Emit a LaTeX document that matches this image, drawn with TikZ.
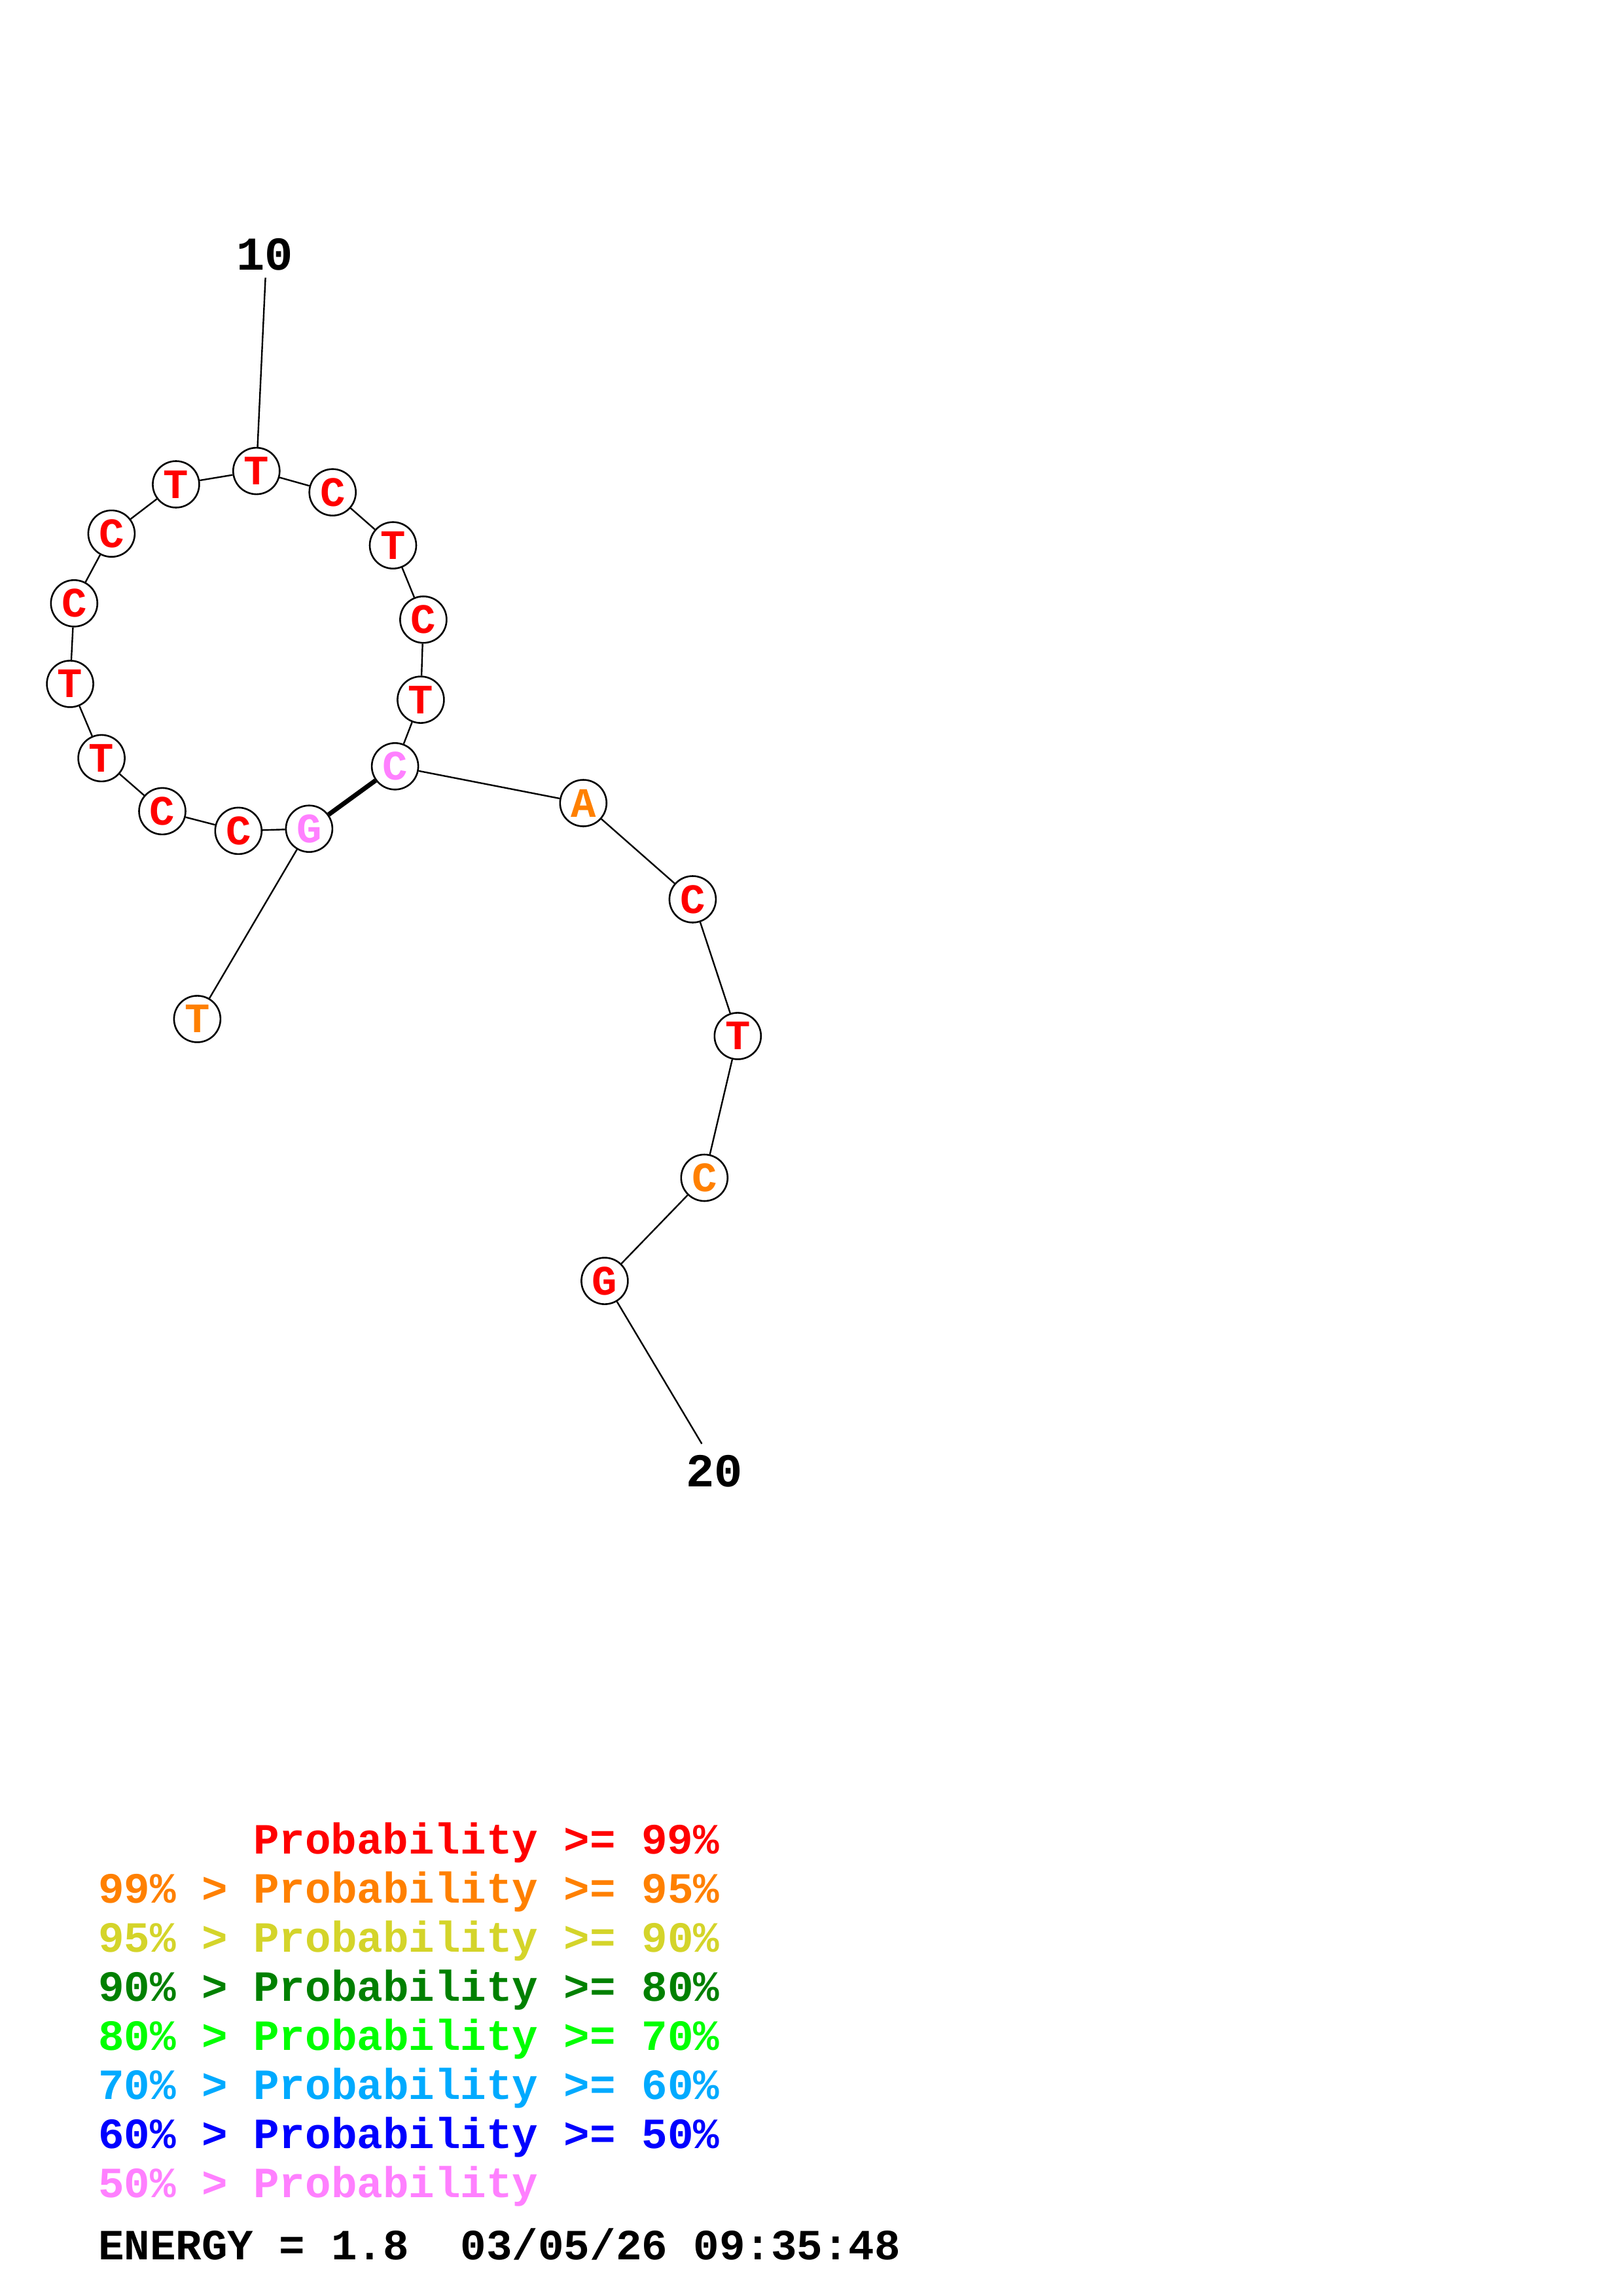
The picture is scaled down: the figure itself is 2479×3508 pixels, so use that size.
\documentclass[tikz,border=0pt]{standalone}
\usepackage{fontspec}
\setmonofont{Liberation Mono}
\definecolor{pr}{RGB}{255,0,0}
\definecolor{po}{RGB}{255,128,0}
\definecolor{py}{RGB}{212,212,42}
\definecolor{pdg}{RGB}{0,128,0}
\definecolor{pg}{RGB}{0,255,0}
\definecolor{plb}{RGB}{0,170,255}
\definecolor{pb}{RGB}{0,0,255}
\definecolor{pp}{RGB}{255,128,255}
\tikzset{
  nt/.style={circle,draw=black,line width=2.6pt,fill=white,minimum size=71pt,inner sep=0pt,
    font=\ttfamily\bfseries\fontsize{64}{64}\selectfont},
  bb/.style={line width=2.4pt},
  bond/.style={line width=7pt},
  numlbl/.style={font=\ttfamily\bfseries\fontsize{72}{72}\selectfont},
  leg/.style={anchor=base west,inner sep=0pt,font=\ttfamily\bfseries\fontsize{65.9}{66}\selectfont}
}
\begin{document}
\begin{tikzpicture}[x=1pt,y=-1pt]
\useasboundingbox (0,0) rectangle (2479,3508);
% nucleotides
\node[nt,text=po] (n1) at (301.4,1556.9) {T};
\node[nt,text=pp] (n2) at (472.4,1266.2) {G};
\node[nt,text=pr] (n3) at (364.3,1269.4) {C};
\node[nt,text=pr] (n4) at (248.0,1239.4) {C};
\node[nt,text=pr] (n5) at (155.1,1158.4) {T};
\node[nt,text=pr] (n6) at (107.1,1044.9) {T};
\node[nt,text=pr] (n7) at (113.3,921.8) {C};
\node[nt,text=pr] (n8) at (170.4,815.3) {C};
\node[nt,text=pr] (n9) at (268.9,740.0) {T};
\node[nt,text=pr] (n10) at (391.8,719.6) {T};
\node[nt,text=pr] (n11) at (508.2,752.2) {C};
\node[nt,text=pr] (n12) at (600.5,833.2) {T};
\node[nt,text=pr] (n13) at (646.9,946.7) {C};
\node[nt,text=pr] (n14) at (642.9,1069.1) {T};
\node[nt,text=pp] (n15) at (603.6,1170.8) {C};
\node[nt,text=po] (n16) at (891.3,1227.0) {A};
\node[nt,text=pr] (n17) at (1058.4,1374.0) {C};
\node[nt,text=pr] (n18) at (1127.3,1582.9) {T};
\node[nt,text=po] (n19) at (1076.3,1799.5) {C};
\node[nt,text=pr] (n20) at (923.9,1957.1) {G};
% backbone
\foreach \a/\b in {1/2,2/3,3/4,4/5,5/6,6/7,7/8,8/9,9/10,10/11,11/12,12/13,13/14,14/15,15/16,16/17,17/18,18/19,19/20}
  \draw[bb] (n\a) -- (n\b);
% pair
\draw[bond] (n2) -- (n15);
% number labels
\node[numlbl] (l10) at (405,389) {10};
\coordinate (c10) at (405.6,424.4);
\draw[bb] (c10) -- (n10);
\node[numlbl] (l20) at (1091.6,2248) {20};
\coordinate (c20) at (1072.4,2205.9);
\draw[bb] (n20) -- (c20);
% legend
\node[leg,text=pr] (g1) at (387,2832) {Probability >= 99\%};
\node[leg,text=po] (g2) at (150,2907) {99\% > Probability >= 95\%};
\node[leg,text=py] (g3) at (150,2982) {95\% > Probability >= 90\%};
\node[leg,text=pdg] (g4) at (150,3057) {90\% > Probability >= 80\%};
\node[leg,text=pg] (g5) at (150,3132) {80\% > Probability >= 70\%};
\node[leg,text=plb] (g6) at (150,3207) {70\% > Probability >= 60\%};
\node[leg,text=pb] (g7) at (150,3282) {60\% > Probability >= 50\%};
\node[leg,text=pp] (g8) at (150,3357) {50\% > Probability};
\node[leg,text=black] (en) at (150,3452.7) {ENERGY = 1.8\ \ 03/05/26 09:35:48};
\end{tikzpicture}
\end{document}
